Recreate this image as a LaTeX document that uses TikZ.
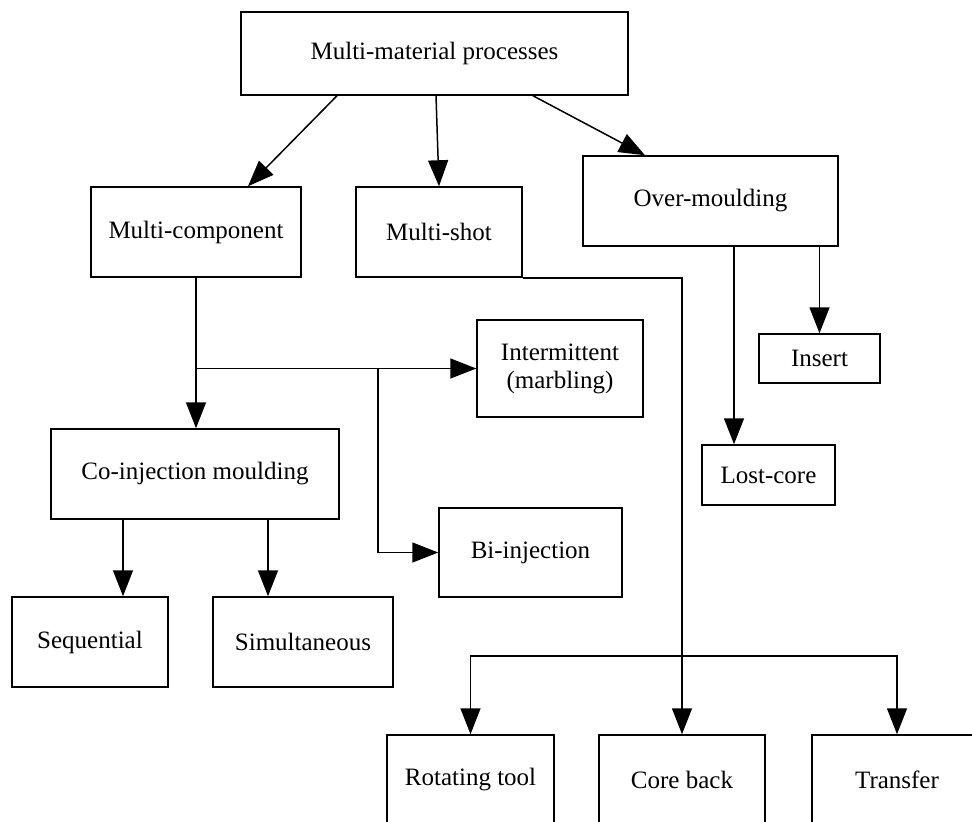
\documentclass[tikz,border=0pt]{standalone}
\usepackage{fontspec}
\setmainfont{Liberation Serif}
\usetikzlibrary{arrows.meta}
\begin{document}
\begin{tikzpicture}[x=1pt,y=-1pt,
  box/.style={draw, line width=1.5pt, rectangle, inner sep=0pt, align=center,
    font=\fontsize{25}{28}\selectfont},
  arr/.style={line width=1.5pt, -{Triangle[length=26pt,width=20pt]}},
  ln/.style={line width=1.5pt}]
\useasboundingbox (0,0) rectangle (972,822);
\clip (0,0) rectangle (972,822);
\fill[white] (0,0) rectangle (972,822);
% boxes
\node[box, minimum width=387pt, minimum height=83pt] (mm) at (434.5,53.5) {Multi-material processes};
\node[box, minimum width=210pt, minimum height=90pt] (mc) at (196,232) {Multi-component};
\node[box, minimum width=166pt, minimum height=90pt] (ms) at (439,232) {Multi-shot};
\node[box, minimum width=255pt, minimum height=90pt] (om) at (710.5,201) {Over-moulding};
\node[box, minimum width=166pt, minimum height=97pt] (int) at (560,368.5) {Intermittent\\(marbling)};
\node[box, minimum width=121pt, minimum height=49pt] (ins) at (819.5,358.5) {Insert};
\node[box, minimum width=288pt, minimum height=90pt] (co) at (195,474) {Co-injection moulding};
\node[box, minimum width=133pt, minimum height=60pt] (lc) at (768.5,475) {Lost-core};
\node[box, minimum width=183pt, minimum height=89pt] (bi) at (530.5,552.5) {Bi-injection};
\node[box, minimum width=156pt, minimum height=90pt] (seq) at (90,642) {Sequential};
\node[box, minimum width=180pt, minimum height=90pt] (sim) at (303,642) {Simultaneous};
\node[box, minimum width=167pt, minimum height=90pt] (rt) at (470.5,780) {Rotating tool};
\node[box, minimum width=166pt, minimum height=90pt] (cb) at (682,780) {Core back};
\node[box, minimum width=170pt, minimum height=90pt] (tr) at (897,780) {Transfer};
% connectors from the top box
\draw[arr] ([xshift=-97.5pt]mm.south) -- ([xshift=52pt]mc.north);
\draw[arr] ([xshift=1.5pt]mm.south) -- (ms.north);
\draw[arr] ([xshift=98.5pt]mm.south) -- ([xshift=-65.5pt]om.north);
% multi-component
\draw[arr] (mc.south) -- (mc.south |- co.north);
\coordinate (j1) at (mc.south |- int.west);
\draw[arr] (j1) -- (int.west);
\coordinate (j2) at (378,368.5);
\draw[arr] (j2) |- (bi.west);
% multi-shot
\draw[arr] (ms.south east) -| (cb.north);
\coordinate (j3) at (682,656);
\draw[arr] (j3) -| (rt.north);
\draw[arr] (j3) -| (tr.north);
% over-moulding
\coordinate (o1) at ([xshift=23.5pt]om.south);
\draw[arr] (o1) -- (o1 |- lc.north);
\draw[arr] (ins.north |- om.south) -- (ins.north);
% co-injection
\coordinate (c1) at ([xshift=-72pt]co.south);
\coordinate (c2) at ([xshift=73pt]co.south);
\draw[arr] (c1) -- (c1 |- seq.north);
\draw[arr] (c2) -- (c2 |- sim.north);
\end{tikzpicture}
\end{document}
